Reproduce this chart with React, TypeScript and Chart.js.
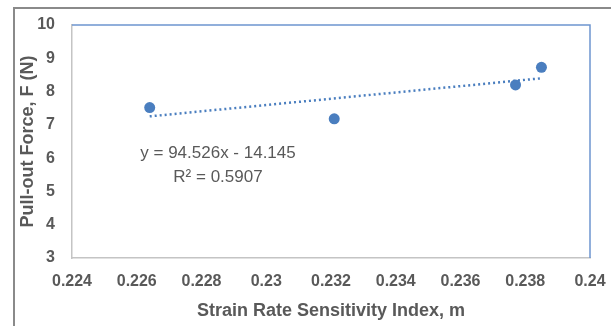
import React, { useEffect, useRef } from "react";
import { Chart, registerables } from "chart.js";

Chart.register(...registerables);

// Data
const strainRate: number[] = [0.2264, 0.2321, 0.2377, 0.2385];
const pullOutForce: number[] = [7.52, 7.18, 8.2, 8.73];
const xTickValues: number[] = [0.224, 0.226, 0.228, 0.23, 0.232, 0.234, 0.236, 0.238, 0.24];
const yTickValues: number[] = [3, 4, 5, 6, 7, 8, 9, 10];
const trendSlope = 94.526;
const trendIntercept = -14.145;
const trendRSquared = "0.5907";
const xTitle = "Strain Rate Sensitivity Index, m";
const yTitle = "Pull-out Force, F (N)";

const W = 611;
const H = 326;
const TEXT = "#595959";
const BLUE = "#4a7ebf";
const FONT = '"Liberation Sans", Arial, sans-serif';

export default function App() {
  const ref = useRef<HTMLCanvasElement | null>(null);

  useEffect(() => {
    if (!ref.current) return;
    const xMin = Math.min(...strainRate);
    const xMax = Math.max(...strainRate);
    const trend = [xMin, xMax].map((x) => ({ x, y: trendSlope * x + trendIntercept }));

    const framePlugin = {
      id: "frame",
      beforeDraw(chart: any) {
        const ctx = chart.ctx;
        ctx.save();
        ctx.fillStyle = "#ffffff";
        ctx.fillRect(0, 0, W, H);
        ctx.strokeStyle = "#8a8a8a";
        ctx.lineWidth = 2;
        ctx.beginPath();
        ctx.moveTo(W, 8);
        ctx.lineTo(14, 8);
        ctx.lineTo(14, H);
        ctx.stroke();
        ctx.restore();
      },
      beforeDatasetsDraw(chart: any) {
        const { ctx, chartArea } = chart;
        ctx.save();
        ctx.strokeStyle = "#6d95cf";
        ctx.lineWidth = 1.5;
        ctx.beginPath();
        ctx.moveTo(chartArea.left, chartArea.top);
        ctx.lineTo(chartArea.right, chartArea.top);
        ctx.lineTo(chartArea.right, chartArea.bottom);
        ctx.stroke();
        ctx.restore();
      },
      afterDatasetsDraw(chart: any) {
        const ctx = chart.ctx;
        ctx.save();
        ctx.fillStyle = TEXT;
        ctx.font = `17px ${FONT}`;
        ctx.textAlign = "center";
        ctx.textBaseline = "middle";
        const sign = trendIntercept < 0 ? "-" : "+";
        ctx.fillText(`y = ${trendSlope}x ${sign} ${Math.abs(trendIntercept)}`, 218, 153);
        ctx.fillText(`R² = ${trendRSquared}`, 218, 177);
        ctx.restore();
      },
    };

    const chart = new Chart(ref.current, {
      type: "scatter",
      data: {
        datasets: [
          {
            label: "Data",
            data: strainRate.map((x, i) => ({ x, y: pullOutForce[i] })),
            backgroundColor: BLUE,
            borderColor: BLUE,
            pointRadius: 5.5,
            pointBorderWidth: 0,
          },
          {
            label: "Trend",
            data: trend,
            showLine: true,
            borderColor: BLUE,
            borderWidth: 2.5,
            borderDash: [2, 3],
            pointRadius: 0,
            fill: false,
          } as any,
        ],
      },
      options: {
        animation: false,
        responsive: false,
        events: [],
        layout: { padding: { top: 25, right: 21, left: 0, bottom: 0 } },
        plugins: { legend: { display: false }, tooltip: { enabled: false } },
        scales: {
          x: {
            type: "linear",
            min: xTickValues[0],
            max: xTickValues[xTickValues.length - 1],
            afterBuildTicks: (scale: any) => {
              scale.ticks = xTickValues.map((v) => ({ value: v }));
            },
            afterFit: (scale: any) => {
              scale.height = 68;
              scale.paddingLeft = 0;
              scale.paddingRight = 0;
            },
            grid: { display: false, drawTicks: false },
            border: { display: true, color: "#c4c4c4", width: 1.5 },
            ticks: {
              padding: 14,
              color: TEXT,
              font: { family: FONT, size: 16, weight: "bold" },
              callback: (v: any) => String(Number(Number(v).toFixed(3))),
              maxRotation: 0,
              autoSkip: false,
            },
            title: {
              display: true,
              text: xTitle,
              color: TEXT,
              padding: { top: 0, bottom: 4 },
              font: { family: FONT, size: 18, weight: "bold" },
            },
          },
          y: {
            type: "linear",
            min: yTickValues[0],
            max: yTickValues[yTickValues.length - 1],
            afterBuildTicks: (scale: any) => {
              scale.ticks = yTickValues.map((v) => ({ value: v }));
            },
            afterFit: (scale: any) => {
              scale.width = 72;
              scale.paddingTop = 0;
              scale.paddingBottom = 0;
            },
            grid: { display: false, drawTicks: false },
            border: { display: true, color: "#c4c4c4", width: 1.5 },
            ticks: {
              padding: 17,
              color: TEXT,
              font: { family: FONT, size: 16, weight: "bold" },
              autoSkip: false,
            },
            title: {
              display: true,
              text: yTitle,
              color: TEXT,
              padding: { top: 17, bottom: 0 },
              font: { family: FONT, size: 18, weight: "bold" },
            },
          },
        },
      },
      plugins: [framePlugin],
    } as any);

    return () => chart.destroy();
  }, []);

  return (
    <div style={{ position: "absolute", left: 0, top: 0, width: W, height: H }}>
      <canvas ref={ref} width={W} height={H} style={{ display: "block", width: W, height: H }} />
    </div>
  );
}
